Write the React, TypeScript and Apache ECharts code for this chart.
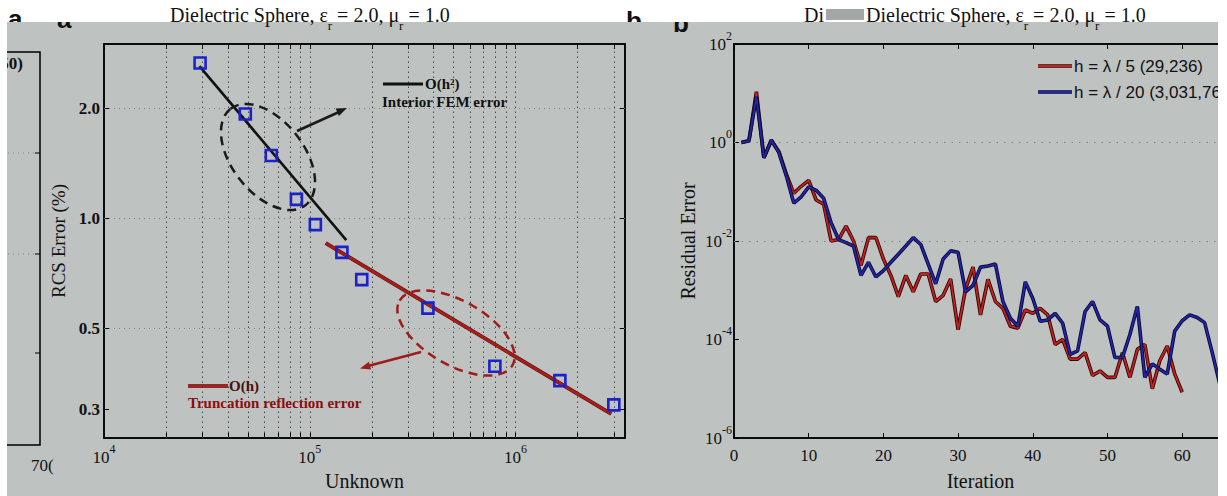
import React, { useEffect, useRef } from "react";
import * as echarts from "echarts";

// ---------- Panel a: RCS error versus number of unknowns ----------
const unknowns = [29300, 48600, 65000, 86100, 106400, 143200, 178800, 375000, 793000, 1641000, 3000000];
const rcsError = [2.66, 1.93, 1.485, 1.126, 0.96, 0.806, 0.679, 0.567, 0.393, 0.359, 0.308];
const fitH2Unknowns = [29080, 150400];
const fitH2Error = [2.61, 0.871];
const fitHUnknowns = [119500, 2914000];
const fitHError = [0.854, 0.291];
const xTicksA = [1e4, 2e4, 3e4, 4e4, 5e4, 6e4, 7e4, 8e4, 9e4, 1e5, 2e5, 3e5, 4e5, 5e5, 6e5, 7e5, 8e5, 9e5, 1e6, 2e6, 3e6];
const xGridA = [2e4, 3e4, 4e4, 5e4, 6e4, 7e4, 8e4, 9e4, 1e5, 2e5, 3e5, 4e5, 5e5, 6e5, 7e5, 8e5, 9e5, 1e6, 2e6, 3e6];
const xLabelsA = [1e4, 1e5, 1e6];
const yTicksA = [0.3, 0.5, 1.0, 2.0];
const yGridA = [0.5, 1.0, 2.0];

// ---------- Panel b: residual error versus iteration ----------
const iterations = [
  1, 2, 3, 4, 5, 6, 7, 8, 9, 10, 11, 12, 13, 14, 15, 16, 17, 18, 19, 20,
  21, 22, 23, 24, 25, 26, 27, 28, 29, 30, 31, 32, 33, 34, 35, 36, 37, 38, 39, 40,
  41, 42, 43, 44, 45, 46, 47, 48, 49, 50, 51, 52, 53, 54, 55, 56, 57, 58, 59, 60,
  61, 62, 63, 64, 65,
];
const residualCoarse = [
  1.0, 1.08, 10.7, 0.49, 1.11, 0.66, 0.23, 0.093, 0.129, 0.17,
  0.068, 0.056, 0.010, 0.0107, 0.020, 0.010, 0.0032, 0.0117, 0.0117, 0.0043,
  0.0020, 0.00074, 0.0020, 0.00093, 0.00214, 0.00214, 0.00059, 0.00079, 0.0017, 0.000158,
  0.00107, 0.00295, 0.000316, 0.00166, 0.00059, 0.00043, 0.000186, 0.00017, 0.0004, 0.00034,
  0.00043, 0.000316, 7.9e-5, 1.0e-4, 4.0e-5, 4.0e-5, 5.4e-5, 1.86e-5, 2.3e-5, 1.7e-5,
  1.7e-5, 5.4e-5, 1.7e-5, 6.3e-5, 7.9e-5, 1.0e-5, 3.7e-5, 7.4e-5, 2.0e-5, 8.5e-6,
];
const residualFine = [
  1.0, 1.08, 8.5, 0.49, 1.11, 0.63, 0.21, 0.059, 0.079, 0.126,
  0.107, 0.074, 0.0234, 0.0107, 0.0093, 0.0079, 0.0020, 0.0037, 0.00186, 0.0025,
  0.0037, 0.0054, 0.0079, 0.0117, 0.0085, 0.0034, 0.00135, 0.0043, 0.0063, 0.0059,
  0.00093, 0.00126, 0.00295, 0.0031, 0.0034, 0.00059, 0.00027, 0.000186, 0.00148, 0.00068,
  0.000234, 0.00025, 0.00034, 0.000214, 5.0e-5, 5.9e-5, 0.00037, 0.00059, 0.00025, 0.000186,
  4.3e-5, 4.3e-5, 0.000126, 0.00047, 1.7e-5, 3.2e-5, 2.5e-5, 2.0e-5, 0.000148, 0.00024,
  0.000316, 0.00028, 0.00022, 5.6e-5, 1.3e-5,
];
const xTicksB = [0, 10, 20, 30, 40, 50, 60];
const yLabelsB = [1e-6, 1e-4, 1e-2, 1, 100];
const yGridB = [1e-4, 1e-2, 1];

const coarseName = "h = λ / 5 (29,236)";
const fineName = "h = λ / 20 (3,031,760)";

const SERIF = "'Liberation Serif', 'Times New Roman', serif";
const SANS = "'Liberation Sans', Arial, sans-serif";
const BG = "#bec2c0";
const INK = "#111111";

function measure(text: string, font: string): number {
  const ctx = document.createElement("canvas").getContext("2d");
  if (!ctx) return text.length * 9;
  ctx.font = font;
  return ctx.measureText(text).width;
}

function subscriptTitle(x0: number, y: number): any[] {
  const mainFont = `20px ${SERIF}`;
  const subFont = `13px ${SERIF}`;
  const pieces = [
    { t: "Dielectric Sphere, ε", sub: false },
    { t: "r", sub: true },
    { t: " = 2.0, μ", sub: false },
    { t: "r", sub: true },
    { t: " = 1.0", sub: false },
  ];
  let x = x0;
  const els: any[] = [];
  pieces.forEach((p) => {
    const font = p.sub ? subFont : mainFont;
    els.push({
      type: "text",
      x,
      y: p.sub ? y + 10 : y,
      z: 50,
      style: { text: p.t, font, fill: INK, align: "left", verticalAlign: "middle" },
    });
    x += measure(p.t, font);
  });
  return els;
}

const powLabel = (v: number) => `{b|10}{e|${Math.round(Math.log10(v))}}`;
const powRich = {
  b: { fontSize: 17, fontFamily: SERIF, color: INK, padding: [6, 0, 6, 0] },
  e: { fontSize: 12, fontFamily: SERIF, color: INK, verticalAlign: "top" },
};

export default function App() {
  const ref = useRef<HTMLDivElement>(null);

  useEffect(() => {
    if (!ref.current) return;
    const chart = echarts.init(ref.current, undefined, { renderer: "svg" });

    const frameLine = { show: true, onZero: false, lineStyle: { color: "#000", width: 1.5 } };
    const tickIn = (vals: number[]) => ({
      show: true,
      inside: true,
      length: 5,
      customValues: vals,
      lineStyle: { color: "#000", width: 1 },
    });

    const graphics: any[] = [
      // grey panel background and masks
      { type: "rect", z: -100, shape: { x: 7, y: 22, width: 1211, height: 474 }, style: { fill: BG } },
      { type: "text", z: -110, x: 8, y: 19, style: { text: "a", font: `bold 26px ${SANS}`, fill: INK, verticalAlign: "middle" } },
      { type: "text", z: -110, x: 626, y: 21, style: { text: "b", font: `bold 26px ${SANS}`, fill: INK, verticalAlign: "middle" } },
      { type: "text", z: -95, x: 57, y: 19, style: { text: "a", font: `bold 26px ${SANS}`, fill: INK, verticalAlign: "middle" } },
      { type: "text", z: -95, x: 673, y: 23, style: { text: "b", font: `bold 26px ${SANS}`, fill: INK, verticalAlign: "middle" } },
      { type: "rect", z: -90, shape: { x: 50, y: 0, width: 35, height: 22 }, style: { fill: "#fff" } },
      { type: "rect", z: -90, shape: { x: 665, y: 0, width: 35, height: 22 }, style: { fill: "#fff" } },

      // titles
      ...subscriptTitle(170, 15),
      { type: "text", z: 50, x: 804, y: 15, style: { text: "Di", font: `20px ${SERIF}`, fill: INK, verticalAlign: "middle" } },
      { type: "rect", z: 55, shape: { x: 826, y: 9, width: 38, height: 11 }, style: { fill: "#a3a7a5" } },
      ...subscriptTitle(866, 15),

      // cropped neighbouring panel on the far left
      { type: "rect", z: 5, shape: { x: -10, y: 52, width: 50, height: 393 }, style: { fill: "none", stroke: "#000", lineWidth: 1.5 } },
      { type: "line", z: 5, shape: { x1: 35, y1: 153, x2: 40, y2: 153 }, style: { stroke: "#000", lineWidth: 1 } },
      { type: "line", z: 5, shape: { x1: 35, y1: 254, x2: 40, y2: 254 }, style: { stroke: "#000", lineWidth: 1 } },
      { type: "line", z: 5, shape: { x1: 35, y1: 353, x2: 40, y2: 353 }, style: { stroke: "#000", lineWidth: 1 } },
      { type: "line", z: 4, shape: { x1: 8, y1: 153, x2: 34, y2: 153 }, style: { stroke: "#7c807e", lineWidth: 1, lineDash: [1, 4] } },
      { type: "line", z: 4, shape: { x1: 8, y1: 254, x2: 34, y2: 254 }, style: { stroke: "#7c807e", lineWidth: 1, lineDash: [1, 4] } },
      { type: "text", z: 5, x: 23, y: 63, style: { text: "50)", font: `bold 17px ${SERIF}`, fill: INK, align: "right", verticalAlign: "middle" } },
      { type: "text", z: 5, x: 31, y: 465, style: { text: "70(", font: `17px ${SERIF}`, fill: INK, align: "left", verticalAlign: "middle" } },

      // annotations in panel a
      { type: "ellipse", z: 20, x: 268, y: 157, rotation: -0.91, shape: { cx: 0, cy: 0, rx: 61, ry: 36 }, style: { fill: "none", stroke: "#1a1a1a", lineWidth: 2.5, lineDash: [9, 6] } },
      { type: "ellipse", z: 20, x: 456, y: 333, rotation: -0.52, shape: { cx: 0, cy: 0, rx: 65, ry: 32 }, style: { fill: "none", stroke: "#9e1c1c", lineWidth: 2.5, lineDash: [9, 6] } },
      { type: "line", z: 20, shape: { x1: 297, y1: 131, x2: 339, y2: 112 }, style: { stroke: "#1a1a1a", lineWidth: 2.5 } },
      { type: "polygon", z: 20, shape: { points: [[347, 108], [338.9, 116], [335.7, 108.6]] }, style: { fill: "#1a1a1a" } },
      { type: "line", z: 20, shape: { x1: 421, y1: 352, x2: 368, y2: 366 }, style: { stroke: "#9e1c1c", lineWidth: 2.5 } },
      { type: "polygon", z: 20, shape: { points: [[360, 368.4], [371, 369.5], [368.9, 361.7]] }, style: { fill: "#9e1c1c" } },
      { type: "line", z: 20, shape: { x1: 383, y1: 84, x2: 423, y2: 84 }, style: { stroke: "#111", lineWidth: 3 } },
      { type: "text", z: 20, x: 425, y: 84, style: { text: "O(h²)", font: `bold 15px ${SERIF}`, fill: INK, verticalAlign: "middle" } },
      { type: "text", z: 20, x: 382, y: 102, style: { text: "Interior FEM error", font: `bold 15px ${SERIF}`, fill: INK, verticalAlign: "middle" } },
      { type: "line", z: 20, shape: { x1: 188, y1: 386, x2: 228, y2: 386 }, style: { stroke: "#4a1010", lineWidth: 3.6 } },
      { type: "line", z: 21, shape: { x1: 188, y1: 386, x2: 228, y2: 386 }, style: { stroke: "#b01c18", lineWidth: 2.4 } },
      { type: "text", z: 20, x: 229, y: 386, style: { text: "O(h)", font: `bold 15px ${SERIF}`, fill: "#4a0e0e", verticalAlign: "middle" } },
      { type: "text", z: 20, x: 188, y: 403, style: { text: "Truncation reflection error", font: `bold 15px ${SERIF}`, fill: "#8a1010", verticalAlign: "middle" } },

      // legend in panel b
      { type: "line", z: 20, shape: { x1: 1038, y1: 66, x2: 1072, y2: 66 }, style: { stroke: "#2b0a0a", lineWidth: 3.5 } },
      { type: "line", z: 21, shape: { x1: 1038, y1: 66, x2: 1072, y2: 66 }, style: { stroke: "#c8201c", lineWidth: 1.8 } },
      { type: "text", z: 20, x: 1074, y: 66, style: { text: coarseName, font: `17px ${SANS}`, fill: INK, verticalAlign: "middle" } },
      { type: "line", z: 20, shape: { x1: 1038, y1: 92, x2: 1072, y2: 92 }, style: { stroke: "#0a0a2b", lineWidth: 3.5 } },
      { type: "line", z: 21, shape: { x1: 1038, y1: 92, x2: 1072, y2: 92 }, style: { stroke: "#2424b0", lineWidth: 1.8 } },
      { type: "text", z: 20, x: 1074, y: 92, style: { text: fineName, font: `17px ${SANS}`, fill: INK, verticalAlign: "middle" } },

      // white page edges
      { type: "rect", z: 200, shape: { x: 0, y: 0, width: 7, height: 496 }, style: { fill: "#fff" } },
      { type: "rect", z: 200, shape: { x: 1218, y: 0, width: 9, height: 496 }, style: { fill: "#fff" } },
    ];

    const option: any = {
      animation: false,
      backgroundColor: "#ffffff",
      textStyle: { fontFamily: SERIF },
      grid: [
        { left: 104, top: 44, width: 521, height: 404, show: true, borderColor: "#000", borderWidth: 1.5, backgroundColor: "transparent" },
        { left: 734, top: 44, width: 493, height: 404, show: true, borderColor: "#000", borderWidth: 1.5, backgroundColor: "transparent" },
      ],
      xAxis: [
        {
          type: "log", gridIndex: 0, min: 1e4, max: 3.4e6, logBase: 10,
          axisLine: frameLine, axisTick: tickIn(xTicksA), splitLine: { show: false },
          axisLabel: { customValues: xLabelsA, formatter: powLabel, rich: powRich, margin: 5 },
          name: "Unknown", nameLocation: "middle", nameGap: 33,
          nameTextStyle: { fontSize: 20, fontFamily: SERIF, color: INK },
        },
        {
          type: "log", gridIndex: 0, min: 1e4, max: 3.4e6, logBase: 10, position: "top",
          axisLine: frameLine, axisTick: tickIn(xTicksA), axisLabel: { show: false }, splitLine: { show: false },
        },
        {
          type: "value", gridIndex: 1, min: 0, max: 66,
          axisLine: frameLine, axisTick: tickIn(xTicksB),
          splitLine: { show: false },
          axisLabel: { customValues: xTicksB, fontSize: 17, fontFamily: SERIF, color: INK, margin: 9 },
          name: "Iteration", nameLocation: "middle", nameGap: 33,
          nameTextStyle: { fontSize: 20, fontFamily: SERIF, color: INK },
        },
        {
          type: "value", gridIndex: 1, min: 0, max: 66, position: "top",
          axisLine: frameLine, axisTick: tickIn(xTicksB),
          axisLabel: { show: false }, splitLine: { show: false },
        },
      ],
      yAxis: [
        {
          type: "log", gridIndex: 0, min: 0.25, max: 3, logBase: 10,
          axisLine: frameLine, axisTick: tickIn(yTicksA), splitLine: { show: false },
          axisLabel: {
            customValues: yTicksA, formatter: (v: number) => v.toFixed(1),
            fontSize: 17, fontWeight: "bold", fontFamily: SERIF, color: INK, margin: 4,
          },
          name: "RCS Error (%)", nameLocation: "middle", nameGap: 36,
          nameTextStyle: { fontSize: 19, fontFamily: SERIF, color: INK },
        },
        {
          type: "log", gridIndex: 0, min: 0.25, max: 3, logBase: 10, position: "right",
          axisLine: frameLine, axisTick: tickIn(yTicksA), axisLabel: { show: false }, splitLine: { show: false },
        },
        {
          type: "log", gridIndex: 1, min: 1e-6, max: 100, logBase: 10,
          axisLine: frameLine, axisTick: tickIn(yLabelsB), splitLine: { show: false },
          axisLabel: { customValues: yLabelsB, formatter: powLabel, rich: powRich, margin: 2 },
          name: "Residual Error", nameLocation: "middle", nameGap: 36,
          nameTextStyle: { fontSize: 20, fontFamily: SERIF, color: INK },
        },
      ],
      series: [
        {
          type: "line", name: "O(h²) fit", xAxisIndex: 0, yAxisIndex: 0, z: 3,
          data: fitH2Unknowns.map((x, i) => [x, fitH2Error[i]]),
          symbol: "none", lineStyle: { color: "#111", width: 2.6 },
          markLine: {
            silent: true, z: 1, symbol: ["none", "none"], label: { show: false },
            lineStyle: { color: "#2a2a2a", width: 1, type: [1.5, 3.5], opacity: 0.8 },
            data: [
              ...xGridA.map((v) => ({ xAxis: v })),
              ...yGridA.map((v) => ({ yAxis: v, lineStyle: { color: "#7c807e", width: 1, type: [1, 4], opacity: 0.9 } })),
            ],
          },
        },
        {
          type: "line", name: "O(h) fit outline", xAxisIndex: 0, yAxisIndex: 0, z: 3,
          data: fitHUnknowns.map((x, i) => [x, fitHError[i]]),
          symbol: "none", lineStyle: { color: "#4a1010", width: 3.8 },
        },
        {
          type: "line", name: "O(h) fit", xAxisIndex: 0, yAxisIndex: 0, z: 3,
          data: fitHUnknowns.map((x, i) => [x, fitHError[i]]),
          symbol: "none", lineStyle: { color: "#b01c18", width: 2.6 },
        },
        {
          type: "scatter", name: "RCS error", xAxisIndex: 0, yAxisIndex: 0, z: 5,
          data: unknowns.map((x, i) => [x, rcsError[i]]),
          symbol: "rect", symbolSize: 11,
          itemStyle: { color: "rgba(0,0,0,0)", borderColor: "#1c22c8", borderWidth: 2.6, opacity: 1 },
        },
        {
          type: "line", name: coarseName + " outline", xAxisIndex: 2, yAxisIndex: 2, z: 3,
          data: residualCoarse.map((v, i) => [iterations[i], v]),
          symbol: "none", lineStyle: { color: "#2b0a0a", width: 3.6 },
          markLine: {
            silent: true, z: 1, symbol: ["none", "none"], label: { show: false },
            lineStyle: { color: "#7e8280", width: 1, type: [1.5, 6] },
            data: yGridB.map((v) => ({ yAxis: v })),
          },
        },
        {
          type: "line", name: coarseName, xAxisIndex: 2, yAxisIndex: 2, z: 3,
          data: residualCoarse.map((v, i) => [iterations[i], v]),
          symbol: "none", lineStyle: { color: "#c8201c", width: 1.8 },
        },
        {
          type: "line", name: fineName + " outline", xAxisIndex: 2, yAxisIndex: 2, z: 4,
          data: residualFine.map((v, i) => [iterations[i], v]),
          symbol: "none", lineStyle: { color: "#0a0a2b", width: 3.6 },
        },
        {
          type: "line", name: fineName, xAxisIndex: 2, yAxisIndex: 2, z: 4,
          data: residualFine.map((v, i) => [iterations[i], v]),
          symbol: "none", lineStyle: { color: "#2424b0", width: 1.8 },
        },
      ],
      graphic: { elements: graphics },
    };

    chart.setOption(option);
    return () => chart.dispose();
  }, []);

  return (
    <div
      ref={ref}
      style={{ position: "fixed", left: 0, top: 0, width: 1227, height: 496, background: "#fff" }}
    />
  );
}
